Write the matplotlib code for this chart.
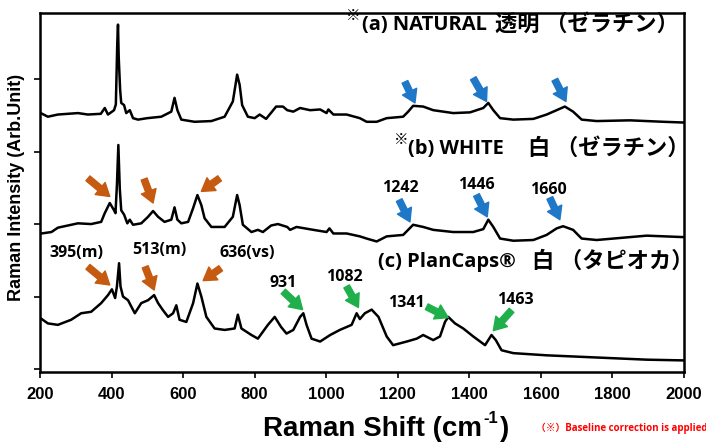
import matplotlib.pyplot as plt

plt.rcParams['font.family'] = ['Liberation Sans', 'Noto Sans CJK JP']

# spectra (arbitrary units, offsets already in)
wn_a = [202, 222, 250, 306, 334, 370, 381, 390, 407, 412, 416, 418, 420, 424, 427, 435,
        441, 451, 460, 474, 500, 539, 567, 576, 584, 595, 632, 679, 716, 739, 751, 758,
        765, 781, 800, 814, 832, 860, 879, 891, 908, 927, 955, 983, 1001, 1006, 1020,
        1057, 1094, 1113, 1141, 1169, 1215, 1229, 1243, 1271, 1299, 1355, 1402, 1439,
        1453, 1467, 1486, 1523, 1579, 1616, 1644, 1667, 1690, 1714, 1756, 1849, 1942, 1998]
int_a = [353, 348, 351, 353, 351, 352, 360, 351, 357, 365, 450, 475, 430, 385, 367, 364,
         353, 357, 346, 344, 346, 348, 355, 374, 357, 344, 341, 342, 348, 369, 406, 392,
         364, 348, 346, 351, 345, 362, 362, 357, 355, 360, 357, 358, 353, 358, 351,
         351, 346, 341, 341, 346, 348, 355, 363, 362, 357, 353, 354, 360,
         367, 357, 346, 344, 345, 351, 357, 362, 355, 344, 342, 343, 341, 340]

wn_b = [204, 232, 250, 278, 306, 343, 371, 381, 395, 401, 407, 411, 415, 419, 423, 427,
        435, 444, 451, 460, 483, 502, 516, 530, 548, 567, 576, 584, 595, 614, 628, 640,
        651, 660, 679, 716, 739, 751, 758, 767, 791, 809, 823, 846, 865, 891, 899, 917,
        964, 1001, 1009, 1020, 1057, 1094, 1113, 1141, 1169, 1215, 1243, 1271, 1299,
        1355, 1411, 1439, 1453, 1467, 1486, 1523, 1579, 1616, 1644, 1662, 1690, 1714,
        1756, 1849, 1896, 1998]
int_b = [187, 189, 195, 198, 201, 200, 203, 215, 229, 224, 219, 215, 254, 309, 249, 219,
         213, 201, 206, 199, 201, 210, 218, 210, 203, 206, 223, 206, 201, 203, 222, 240,
         226, 208, 196, 196, 210, 240, 226, 199, 189, 192, 189, 198, 200, 196, 192, 196,
         192, 189, 194, 187, 187, 183, 180, 176, 183, 185, 199, 196, 192,
         189, 189, 193, 206, 196, 180, 177, 178, 185, 194, 197, 192, 180,
         178, 182, 184, 182]

wn_c = [202, 222, 250, 287, 315, 343, 371, 390, 401, 410, 415, 421, 425, 432, 446, 465,
        483, 502, 519, 530, 544, 558, 572, 581, 590, 609, 628, 640, 651, 665, 688, 716,
        744, 753, 763, 791, 809, 837, 856, 874, 889, 908, 927, 936, 945, 959, 983, 1011,
        1038, 1071, 1085, 1094, 1108, 1127, 1146, 1169, 1187, 1225, 1253, 1271, 1299,
        1318, 1332, 1341, 1360, 1383, 1411, 1444, 1462, 1474, 1490, 1523, 1616, 1709,
        1802, 1896, 1998]
int_c = [70, 63, 61, 68, 77, 79, 91, 102, 110, 98, 114, 146, 114, 100, 95, 77,
         91, 95, 102, 91, 81, 72, 77, 88, 68, 65, 91, 118, 100, 72, 56, 54,
         56, 75, 56, 47, 42, 61, 72, 58, 49, 54, 72, 77, 61, 42, 38, 47,
         54, 61, 77, 69, 77, 82, 72, 45, 33, 38, 42, 47, 40,
         45, 65, 72, 63, 56, 45, 33, 47, 40, 26, 22, 19, 17,
         15, 13, 12]

# sample names: (mark, latin part, japanese part)
samples = [("※", "(a) NATURAL", "透明 （ゼラチン）"),
           ("※", "(b) WHITE", "白 （ゼラチン）"),
           ("", "(c) PlanCaps®", "白 （タピオカ）")]

# peak labels: (text, x, y)
peak_labels = [("1242", 1206, 250), ("1446", 1420, 254), ("1660", 1620, 247),
               ("395(m)", 303, 160), ("513(m)", 533, 164), ("636(vs)", 778, 160),
               ("931", 880, 119), ("1082", 1052, 127), ("1341", 1225, 91), ("1463", 1528, 95)]

# arrows: (tail x, tail y, head x, head y, colour)
blue, orange, green = "#1f77c8", "#c55a11", "#1fb04c"
arrows = [(1220, 396, 1248, 367, blue), (1411, 401, 1448, 369, blue), (1639, 399, 1670, 369, blue),
          (1204, 233, 1234, 203, blue), (1420, 240, 1450, 210, blue), (1625, 236, 1653, 206, blue),
          (334, 263, 395, 238, orange), (491, 262, 516, 229, orange), (702, 263, 651, 245, orange),
          (334, 141, 395, 116, orange), (494, 141, 519, 109, orange), (705, 139, 656, 122, orange),
          (880, 107, 934, 82, green), (1057, 114, 1090, 85, green),
          (1281, 86, 1341, 71, green), (1518, 81, 1467, 53, green)]

fig = plt.figure(figsize=(7.06, 4.43), dpi=100)
ax = fig.add_axes([40 / 706, 71 / 443, 644 / 706, 359 / 443])

for wn, inten in [(wn_a, int_a), (wn_b, int_b), (wn_c, int_c)]:
    ax.plot(wn, inten, color="black", lw=1.8)

for x0, y0, x1, y1, col in arrows:
    ax.annotate("", xy=(x1, y1), xytext=(x0, y0),
                arrowprops=dict(arrowstyle="simple,head_width=0.75,head_length=0.6,tail_width=0.3",
                                color=col, shrinkA=0, shrinkB=0, mutation_scale=15))

jp = ["Open Sans", "Noto Sans CJK JP"]
for txt, x, y in peak_labels:
    ax.text(x, y, txt, ha="center", va="center", fontsize=11.5, fontweight="bold", family=jp)

# sample name placement (x of mark, latin, japanese; y)
name_pos = [(1075, 1100, 1472, 474), (1209, 1228, 1564, 303), (None, 1145, 1575, 148)]
for (mark, latin, kana), (xm, xl, xj, y) in zip(samples, name_pos):
    if mark:
        ax.text(xm, y + 12, mark, ha="center", va="center", fontsize=10.5, family=jp)
    ax.text(xl, y, latin, ha="left", va="center", fontsize=14.5, fontweight="bold", family=jp)
    ax.text(xj, y, kana, ha="left", va="center", fontsize=16, fontweight="bold", family=jp)

ax.set_xlim(200, 2000)
ax.set_ylim(-4, 491)
ax.set_xticks(range(200, 2001, 200))
ax.set_yticks([0, 100, 200, 300, 400])
ax.set_yticklabels([])
ax.tick_params(direction="out", length=4, width=1.2)
ax.tick_params(axis="x", pad=7, labelsize=12)
for lab in ax.get_xticklabels():
    lab.set_fontweight("bold")
for sp in ax.spines.values():
    sp.set_linewidth(1.8)

fig.text(17 / 706, 1 - 187 / 443, "Raman Intensity (Arb.Unit)", rotation=90, ha="center",
         va="center", fontsize=13, fontweight="bold")

# x label with a small raised "-1"
xl_y = 1 - 436 / 443
t1 = fig.text(263 / 706, xl_y, "Raman Shift (cm", ha="left", va="baseline",
              fontsize=20, fontweight="bold")
fig.canvas.draw()
bb = t1.get_window_extent()
t2 = fig.text(bb.x1 / 706 + 0.002, xl_y + 0.03, "-1", ha="left", va="baseline",
              fontsize=12, fontweight="bold")
fig.canvas.draw()
bb2 = t2.get_window_extent()
fig.text(bb2.x1 / 706 + 0.002, xl_y, ")", ha="left", va="baseline", fontsize=20, fontweight="bold")

fig.text(536 / 706, 1 - 428 / 443, "（※）Baseline correction is applied", ha="left", va="center",
         fontsize=7, fontweight="bold", color="red", family=jp)

fig.savefig("out.png", dpi=100)
